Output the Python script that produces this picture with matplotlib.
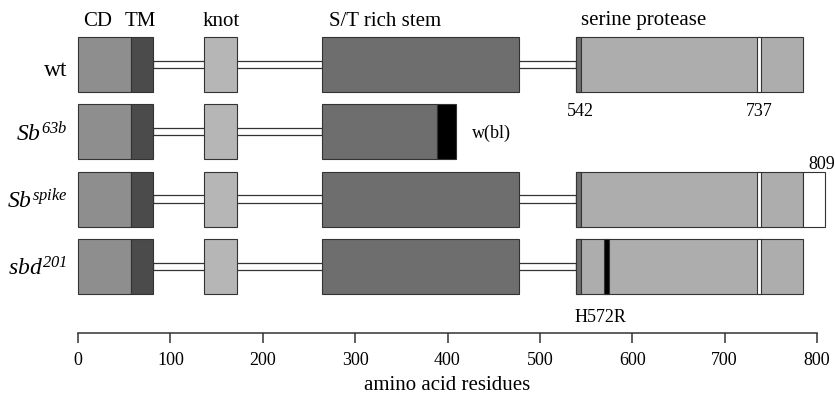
import matplotlib
matplotlib.use('Agg')
import matplotlib.pyplot as plt
from matplotlib.patches import Rectangle

plt.rcParams['font.family'] = ['Liberation Serif', 'DejaVu Serif']
plt.rcParams['mathtext.fontset'] = 'custom'
# only the row labels use mathtext, and there even the digits are italic
plt.rcParams['mathtext.rm'] = 'Liberation Serif:italic'
plt.rcParams['mathtext.it'] = 'Liberation Serif:italic'

# --- data (amino acid residues) ---
row_labels = ['wt', r'$\mathit{Sb}^{\mathit{63b}}$',
              r'$\mathit{Sb}^{\mathit{spike}}$', r'$\mathit{sbd}^{\mathit{201}}$']
domain_names = ['CD', 'TM', 'knot', 'S/T rich stem', 'serine protease']
domain_start = [0, 57, 136, 264, 539]
domain_end = [57, 81, 172, 477, 785]
domain_colors = ['#8e8e8e', '#4b4b4b', '#b6b6b6', '#6e6e6e', '#adadad']

activation_site = 542      # start of catalytic chain
activation_strip = (539, 544)
disulfide_site = 737
disulfide_strip = (735, 739)

trunc_end = 409            # Sb63b truncated stem
wbl_start = 389            # w(bl) insertion
spike_end = 809            # Sb spike extension
mutation_pos = 572         # sbd201 H572R
mutation_strip = (569.5, 574.5)

axis_ticks = [0, 100, 200, 300, 400, 500, 600, 700, 800]

# --- layout (pixels -> data) ---
W, H = 835, 398
px0, px_per_res = 78, 739 / 800
pitch, top_center = 67.3, 64.5
box_h = 55 / pitch
gap = 7.3 / pitch
edge = '#333333'

fig = plt.figure(figsize=(W / 100, H / 100), dpi=100)
ax = fig.add_axes([0, 0, 1, 1])
ax.set_xlim(-px0 / px_per_res, (W - px0) / px_per_res)
ax.set_ylim((H - top_center) / pitch, -top_center / pitch)
ax.axis('off')


def box(row, a, b, color, z=3):
    ax.add_patch(Rectangle((a, row - box_h / 2), b - a, box_h, facecolor=color,
                           edgecolor=edge, linewidth=0.8, zorder=z))


def linker(row, a, b):
    ax.add_patch(Rectangle((a, row - gap / 2), b - a, gap, facecolor='white',
                           edgecolor=edge, linewidth=0.9, zorder=2))


for row in range(4):
    truncated = row == 1
    linker(row, domain_end[1], domain_start[3] if truncated else domain_start[4])
    for i in range(4):
        a, b = domain_start[i], domain_end[i]
        if truncated and i == 3:
            box(row, a, wbl_start, domain_colors[i])
            box(row, wbl_start, trunc_end, 'black')
        else:
            box(row, a, b, domain_colors[i])
    if truncated:
        continue
    box(row, domain_start[4], domain_end[4], domain_colors[4])
    box(row, activation_strip[0], activation_strip[1], '#6e6e6e', z=4)
    box(row, disulfide_strip[0], disulfide_strip[1], 'white', z=4)
    if row == 2:
        box(row, domain_end[4], spike_end, 'white')
    if row == 3:
        box(row, mutation_strip[0], mutation_strip[1], 'black', z=4)

# row labels
for row, lab in enumerate(row_labels):
    off = 11 if row == 0 else 9
    ax.text(-11, row + off / pitch, lab, ha='right', va='baseline', fontsize=17)

# domain headers
hy = (21 - top_center) / pitch
ax.text(21.7, hy, domain_names[0], ha='center', va='center', fontsize=15)
ax.text(67, hy, domain_names[1], ha='center', va='center', fontsize=15)
ax.text(155, hy, domain_names[2], ha='center', va='center', fontsize=15)
ax.text(272, hy, domain_names[3], ha='left', va='center', fontsize=15)
ax.text(544, hy, domain_names[4], ha='left', va='center', fontsize=15)

# annotations
ay = (111 - top_center) / pitch
ax.text(activation_site + 2, ay, str(activation_site), ha='center', va='center', fontsize=13)
ax.text(disulfide_site + 1, ay, str(disulfide_site), ha='center', va='center', fontsize=13)
ax.text(426, 1 + (134 - 132.3) / pitch, 'w(bl)', ha='left', va='center', fontsize=13)
ax.text(spike_end - 4, 2 - (199.8 - 170) / pitch, str(spike_end), ha='center',
        va='baseline', fontsize=13)
ax.text(mutation_pos - 6, (317 - top_center) / pitch, 'H572R', ha='center',
        va='center', fontsize=13)

# residue scale axis
sax = fig.add_axes([px0 / W, 1 - 333 / H, 739 / W, 0.0001])
sax.set_xlim(0, 800)
sax.set_xticks(axis_ticks)
sax.set_yticks([])
for s in ['top', 'left', 'right']:
    sax.spines[s].set_visible(False)
sax.spines['bottom'].set_color(edge)
sax.spines['bottom'].set_linewidth(1.1)
sax.tick_params(axis='x', direction='out', length=7.5, width=1.1, color=edge,
                labelsize=13, pad=6)
sax.set_xlabel('amino acid residues', fontsize=15, labelpad=5)
sax.patch.set_visible(False)

fig.savefig('out.png', dpi=100)
